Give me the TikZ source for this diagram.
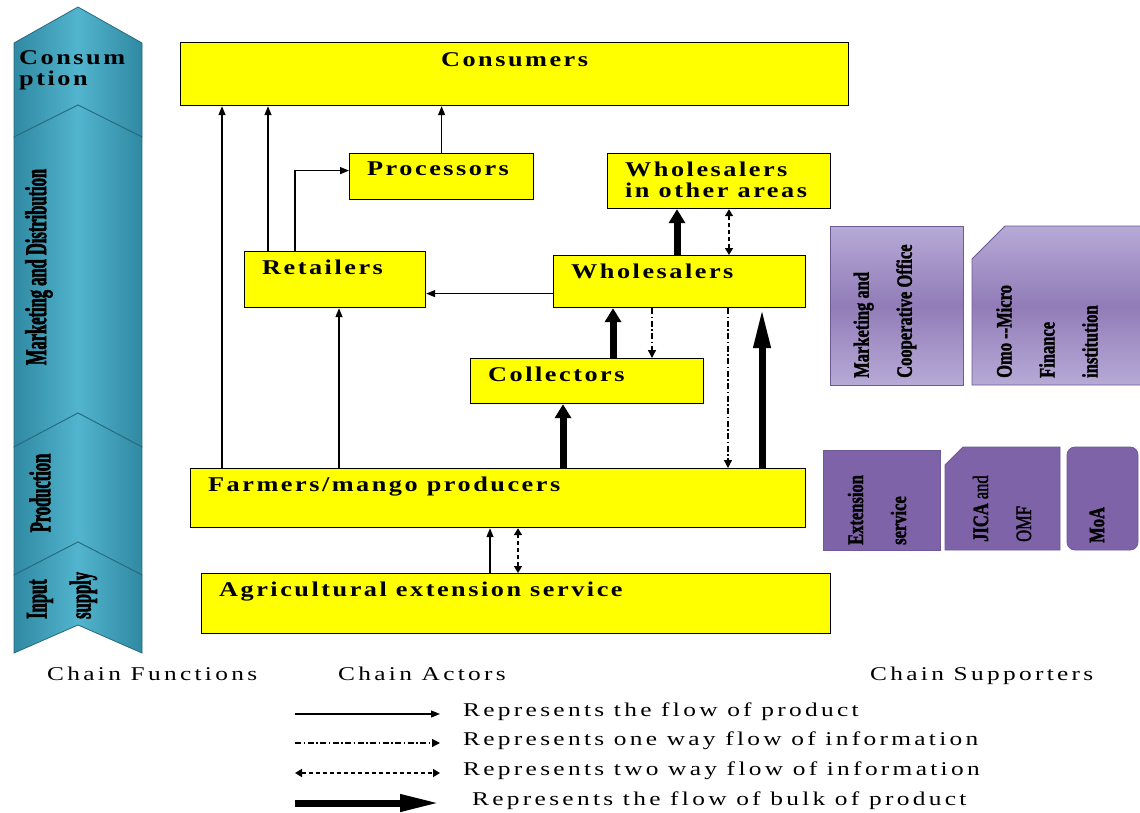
\documentclass[tikz,border=0pt]{standalone}
\usepackage{fontspec}
\setmainfont{Liberation Serif}
\newfontfamily\actorfont[FakeStretch=1.25,LetterSpace=12]{Liberation Serif}
\newfontfamily\keyfont[FakeStretch=1.3,LetterSpace=17]{Liberation Serif}
\newfontfamily\tallfont[FakeStretch=0.55,FakeBold=2]{Liberation Serif}
\newfontfamily\suppfont[FakeStretch=0.75,FakeBold=1.5]{Liberation Serif}
\usetikzlibrary{arrows.meta,positioning}

\definecolor{actoryellow}{RGB}{255,255,0}
\definecolor{tealdark}{RGB}{48,137,162}
\definecolor{teallight}{RGB}{82,180,206}
\definecolor{tealline}{RGB}{38,105,125}
\definecolor{suppdark}{RGB}{127,99,168}
\definecolor{supplight}{RGB}{182,170,214}
\definecolor{suppmid}{RGB}{146,124,184}
\definecolor{suppline}{RGB}{110,90,150}

\begin{document}
\begin{tikzpicture}[x=1pt, y=-1pt,
    actor/.style={draw, line width=1.2pt, fill=actoryellow, anchor=north west, inner sep=0pt},
    actortext/.style={anchor=north west, inner sep=0pt, align=left,
      font=\actorfont\bfseries\fontsize{21}{21}\selectfont},
    actorlbl/.style={label={[actortext, xshift=18pt, yshift=-9pt]north west:#1}},
    chainpart/.style={left color=tealdark, right color=tealdark, middle color=teallight,
      draw=tealline, line width=0.8pt},
    phasetext/.style={rotate=90, inner sep=0pt, align=left,
      font=\tallfont\bfseries\fontsize{30}{44}\selectfont},
    suppshaded/.style={top color=supplight, bottom color=supplight, middle color=suppmid,
      draw=suppline, line width=0.8pt},
    suppsolid/.style={fill=suppdark, draw=suppline, line width=0.8pt},
    supptext/.style={rotate=90, anchor=west, inner sep=0pt, align=left,
      font=\suppfont\bfseries\fontsize{22}{43}\selectfont},
    keytext/.style={anchor=base west, inner sep=0pt, font=\keyfont\fontsize{19.5}{20}\selectfont},
    flow/.style={line width=1.3pt, -{Triangle[length=9pt,width=7pt]}},
    bulk/.style={line width=7pt, -{Triangle[length=14pt,width=16pt]}},
    longbulk/.style={line width=7pt, -{Triangle[length=40pt,width=16pt]}},
    twoway/.style={line width=1.6pt, dash pattern=on 4pt off 3pt,
      {Triangle[length=7pt,width=8pt]}-{Triangle[length=7pt,width=8pt]}},
    oneway/.style={line width=1.3pt, dash pattern=on 6pt off 2.5pt on 1.5pt off 2.5pt,
      -{Triangle[length=8pt,width=8pt]}}]

  \useasboundingbox (0,0) rectangle (1140,813);

  % chain functions
  \path[chainpart] (14,43) -- (78,7) -- (142,43) -- (142,137) -- (78,105) -- (14,137) -- cycle;
  \path[chainpart] (14,137) -- (78,105) -- (142,137) -- (142,447) -- (78,413) -- (14,447) -- cycle;
  \path[chainpart] (14,447) -- (78,413) -- (142,447) -- (142,575) -- (78,542) -- (14,575) -- cycle;
  \path[chainpart] (14,575) -- (78,542) -- (142,575) -- (142,653) -- (78,625) -- (14,653) -- cycle;
  \node[actortext] (consph) at (19,50) {Consum\\ption};
  \node[phasetext] (mktph) at (39,267) {Marketing and Distribution};
  \node[phasetext] (prodph) at (40,493) {Production};
  \node[phasetext, anchor=west] (inputph) at (62,619) {Input\\supply};

  % chain actors
  \node[actor, minimum width=668pt, minimum height=63pt,
    label={[actortext, anchor=north, yshift=-10pt]north:Consumers}] (cons) at (180,42) {};
  \node[actor, minimum width=184pt, minimum height=46pt, actorlbl=Processors] (proc) at (349,153) {};
  \node[actor, minimum width=223pt, minimum height=55pt, actorlbl={Wholesalers\\in other areas}] (woa) at (607,153) {};
  \node[actor, minimum width=181pt, minimum height=56pt, actorlbl=Retailers] (ret) at (244,251) {};
  \node[actor, minimum width=252pt, minimum height=52pt, actorlbl=Wholesalers] (whole) at (553,255) {};
  \node[actor, minimum width=233pt, minimum height=45pt, actorlbl=Collectors] (coll) at (470,358) {};
  \node[actor, minimum width=615pt, minimum height=59pt, actorlbl={Farmers/mango producers}] (farm) at (190,468) {};
  \node[actor, minimum width=629pt, minimum height=60pt, actorlbl={Agricultural extension service}] (ext) at (201,573) {};

  \coordinate (wr) at ([yshift=-12pt]whole.west);
  \draw[flow] (farm.north -| 222,0) -- (cons.south -| 222,0);
  \draw[flow] (ret.north -| 268,0) -- (cons.south -| 268,0);
  \draw[flow] (ret.north -| 295,0) |- ([yshift=6pt]proc.west);
  \draw[flow] (proc.north) -- (proc.north |- cons.south);
  \draw[flow] (wr) -- (wr -| ret.east);
  \draw[flow] (farm.north -| 339,0) -- (ret.south -| 339,0);
  \draw[flow] (ext.north -| 490,0) -- (farm.south -| 490,0);
  \draw[bulk] (whole.north -| 677,0) -- (woa.south -| 677,0);
  \draw[bulk] (coll.north -| 613,0) -- (whole.south -| 613,0);
  \draw[bulk] (farm.north -| 563,0) -- (coll.south -| 563,0);
  \draw[longbulk] (farm.north -| 762,0) -- (whole.south -| 762,0);
  \draw[twoway] (whole.north -| 729,0) -- (woa.south -| 729,0);
  \draw[twoway] (ext.north -| 518,0) -- (farm.south -| 518,0);
  \draw[oneway] (whole.south -| 652,0) -- (coll.north -| 652,0);
  \draw[oneway] (whole.south -| 728,0) -- (farm.north -| 728,0);

  % chain supporters
  \path[suppshaded] (830,226) rectangle (963,385);
  \path[suppshaded] (972,259) -- (1005,226) -- (1146,226) -- (1146,385) -- (972,385) -- cycle;
  \path[suppsolid] (823,450) rectangle (940,550);
  \path[suppsolid] (945,465) -- (963,447) -- (1060,447) -- (1060,550) -- (945,550) -- cycle;
  \path[suppsolid, rounded corners=8pt] (1067,447) rectangle (1138,550);
  \node[supptext] (mcotxt) at (885,378) {Marketing and\\Cooperative Office};
  \node[supptext] (omotxt) at (1047,378) {Omo --Micro\\Finance\\institution};
  \node[supptext] (extsvtxt) at (877,545) {Extension\\service};
  \node[supptext] (jicatxt) at (1002,542) {JICA {\mdseries and}\\{\mdseries OMF}};
  \node[supptext] (moatxt) at (1097,543) {MoA};

  % headings and key
  \node[keytext] (hfunc) at (47,680) {Chain Functions};
  \node[keytext] (hact) at (338,680) {Chain Actors};
  \node[keytext] (hsupp) at (870,680) {Chain Supporters};

  \foreach \st/\ay/\tx/\txt in {flow/714/463/{Represents the flow of product},
      oneway/743/463/{Represents one way flow of information},
      twoway/773/463/{Represents two way flow of information},
      longbulk/803/472/{Represents the flow of bulk of product}} {
    \coordinate (ls\ay) at (295,\ay);
    \coordinate[right=145pt of ls\ay] (le\ay);
    \draw[\st] (ls\ay) -- (le\ay);
    \node[keytext] (lt\ay) at (\tx,\ay+2) {\txt};
  }
\end{tikzpicture}
\end{document}
